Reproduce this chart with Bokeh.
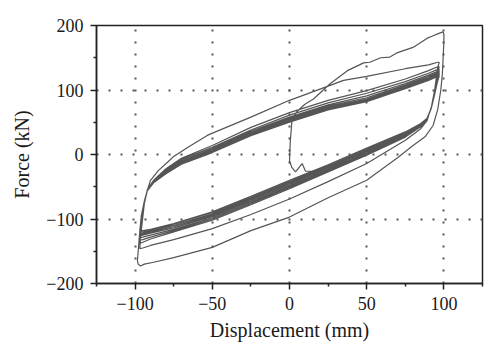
from bokeh.plotting import figure
from bokeh.models import FixedTicker, Range1d
from bokeh.embed import file_html
from bokeh.resources import INLINE

# ---------------- data ----------------
X_TICKS = [-100, -50, 0, 50, 100]
X_MINOR = [-125, -75, -25, 25, 75, 125]
Y_TICKS = [-200, -100, 0, 100, 200]
Y_MINOR = [-150, -50, 50, 150]
X_LABELS = ["−100", "−50", "0", "50", "100"]
Y_LABELS = ["−200", "−100", "0", "100", "200"]
X_TITLE = "Displacement (mm)"
Y_TITLE = "Force (kN)"

# initial loading (with the small notch near zero)
INIT_X = [50, 35, 26, 15, 10.4, 8.2, 3.9, 1.5, 0, 0.5, 1.5, 2.6, 5, 10, 15.5,
          26.5, 37.5, 48, 52, 59, 65, 70, 80, 89, 93, 96, 98, 99.5]
INIT_Y = [-2, -12, -20, -26, -26, -14, -27, -20, -10, 20, 50, 58, 67, 78, 86,
          110, 130, 142, 143, 150, 151, 158, 166, 180, 184, 187, 189, 190]

# first unloading branch (from the 190 kN peak to the -172 kN peak)
LO0_X = [100, 100, 99.5, 99, 98, 96, 93, 88, 80, 70, 50, 25, 0, -25, -50, -75,
         -88, -94, -96.5, -98, -98.5]
LO0_Y = [186, 175, 150, 125, 100, 70, 45, 28, 14, -5, -40, -67, -97, -118, -144,
         -160, -167, -170, -173, -170, -165]

# first reloading branch
UP0_X = [-98.5, -98, -97, -96, -94, -92, -90, -85, -79, -75, -66, -53, -25, 0,
         25, 35, 50, 75, 90, 96]
UP0_Y = [-165, -150, -120, -95, -72, -55, -40, -25, -12, -3, 11, 30, 58, 84,
         106, 115, 121, 133, 139, 143]

# later cycles: lower (leftward) branches
LO_X = [97, 96, 94, 92, 89, 85, 75, 50, 25, 0, -25, -50, -75, -90, -95, -97]
LO_Y = [
    [143, 135, 100, 75, 52, 40, 22, -14, -42, -69, -93, -115, -132, -141, -145, -146],
    [136, 128, 97, 74, 53, 43, 27, -1, -27, -53, -78, -102, -120, -131, -136, -138],
    [132, 124, 96, 74, 54, 44, 29, 1, -25, -51, -76, -100, -118, -128, -132, -133],
    [129, 121, 95, 73, 54, 45, 30, 3, -23, -49, -74, -98, -116, -125, -128, -129],
    [127, 119, 94, 73, 55, 46, 31, 5, -21, -47, -72, -96, -114, -122, -125, -126],
    [125, 117, 94, 73, 55, 46, 32, 6, -20, -45, -70, -94, -112, -120, -123, -124],
    [124, 116, 93, 73, 55, 47, 33, 7, -19, -43, -68, -92, -110, -118, -121, -122],
    [123, 115, 93, 73, 56, 47, 34, 8, -18, -42, -67, -90, -108, -117, -119, -120],
    [122, 114, 93, 73, 56, 48, 35, 10, -16, -40, -65, -89, -107, -116, -118, -118],
]

# later cycles: upper (rightward) branches
UP_X = [-97, -96, -94, -92, -88, -80, -70, -50, -25, 0, 25, 50, 75, 90, 96]
UP_Y = [
    [-146, -118, -76, -54, -40, -22, -6, 14, 42, 65, 84, 99, 117, 130, 136],
    [-138, -112, -75, -54, -41, -24, -8, 11, 38, 61, 80, 95, 113, 126, 132],
    [-133, -108, -75, -55, -42, -25, -10, 9, 36, 58, 77, 91, 110, 123, 129],
    [-129, -105, -74, -55, -42, -26, -11, 7, 34, 56, 75, 88, 108, 121, 127],
    [-126, -103, -74, -55, -43, -27, -12, 6, 32, 54, 73, 86, 106, 119, 125],
    [-124, -101, -74, -55, -43, -28, -13, 5, 31, 53, 72, 85, 105, 118, 124],
    [-122, -100, -74, -56, -44, -29, -14, 4, 30, 52, 71, 84, 104, 117, 123],
    [-120, -99, -74, -56, -44, -30, -15, 3, 29, 51, 70, 83, 103, 116, 122],
    [-118, -98, -73, -56, -44, -30, -15, 3, 29, 50, 69, 82, 102, 115, 121],
]

# ---------------- assemble the continuous path ----------------
xs = list(INIT_X) + list(LO0_X) + list(UP0_X)
ys = list(INIT_Y) + list(LO0_Y) + list(UP0_Y)
for lo, up in zip(LO_Y, UP_Y):
    xs += LO_X + UP_X
    ys += lo + up

FONT = "Liberation Serif"
TXT = "#1a1a1a"

p = figure(width=496, height=350, output_backend="svg", toolbar_location=None,
           x_range=Range1d(-125, 125), y_range=Range1d(-200, 200),
           min_border_left=96, min_border_right=14, min_border_top=25,
           min_border_bottom=67)
p.background_fill_color = "white"
p.border_fill_color = "white"
p.outline_line_color = "#222222"
p.outline_line_width = 1.5

p.line(xs, ys, line_color="#555555", line_width=1.2)

p.xaxis.ticker = FixedTicker(ticks=X_TICKS, minor_ticks=X_MINOR)
p.yaxis.ticker = FixedTicker(ticks=Y_TICKS, minor_ticks=Y_MINOR)
p.xaxis.major_label_overrides = {t: l for t, l in zip(X_TICKS, X_LABELS)}
p.yaxis.major_label_overrides = {t: l for t, l in zip(Y_TICKS, Y_LABELS)}

for ax in (p.xaxis[0], p.yaxis[0]):
    ax.axis_line_color = "#222222"
    ax.axis_line_width = 1.5
    ax.major_tick_line_color = "#222222"
    ax.major_tick_line_width = 1.5
    ax.minor_tick_line_color = "#222222"
    ax.minor_tick_line_width = 1.5
    ax.major_tick_in = 0
    ax.major_tick_out = 6
    ax.minor_tick_in = 0
    ax.minor_tick_out = 3
    ax.major_label_text_font = FONT
    ax.major_label_text_font_size = "18px"
    ax.major_label_text_color = TXT
    ax.axis_label_text_font = FONT
    ax.axis_label_text_font_size = "20px"
    ax.axis_label_text_font_style = "normal"
    ax.axis_label_text_color = TXT
    ax.major_label_standoff = 7

p.xaxis.axis_label = X_TITLE
p.yaxis.axis_label = Y_TITLE
p.xaxis.axis_label_standoff = 6
p.yaxis.axis_label_standoff = 10
p.yaxis.major_label_orientation = "horizontal"

p.xgrid.ticker = FixedTicker(ticks=X_TICKS)
p.ygrid.ticker = FixedTicker(ticks=[-100, 0, 100])
for g in (p.xgrid[0], p.ygrid[0]):
    g.grid_line_color = "#555555"
    g.grid_line_width = 2
    g.grid_line_dash = "2 10"

with open("out.html", "w") as f:
    f.write(file_html(p, INLINE))
